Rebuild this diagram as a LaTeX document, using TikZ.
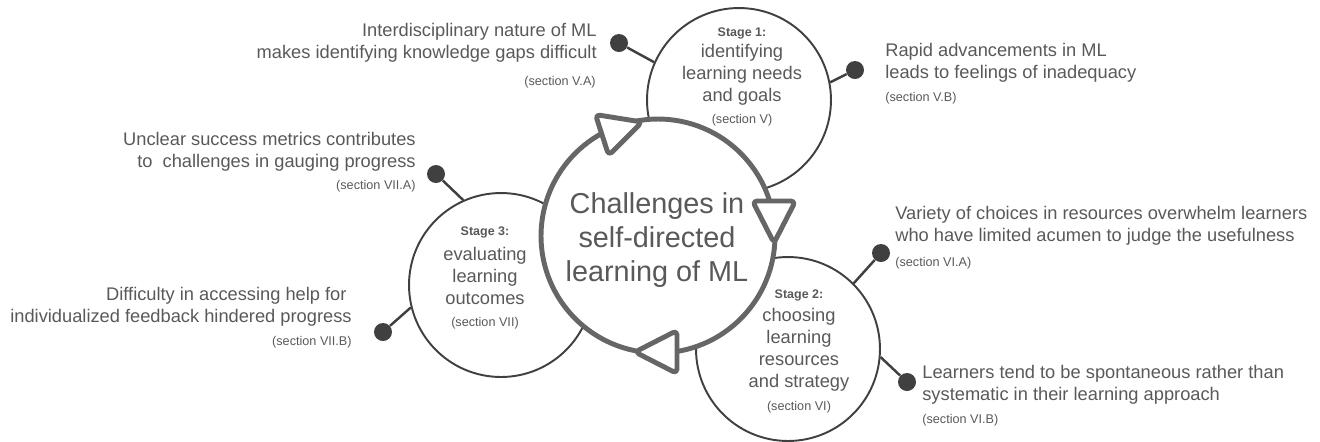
\documentclass[tikz,border=0pt]{standalone}
\usepackage{fontspec}
\setmainfont{Liberation Sans}
\usetikzlibrary{shapes.geometric}

\definecolor{ink}{HTML}{595959}
\definecolor{rim}{HTML}{404040}
\definecolor{hub}{HTML}{666666}

\begin{document}
\begin{tikzpicture}[x=0.02cm,y=-0.02cm]
      \useasboundingbox (0,0) rectangle (1320,441);

      % stage circles
      \begin{scope}[every node/.style={circle,draw=rim,line width=1.1pt,fill=white,minimum size=3.68cm,inner sep=0pt}]
        \node (s1) at (739,100) {};
        \node (s2) at (788,349) {};
        \node (s3) at (501,285) {};
      \end{scope}

      \node[circle,draw=hub,line width=2.8pt,fill=white,minimum size=4.68cm,inner sep=0pt] (core) at (658,236) {};

      % arrow heads on the cycle
      \begin{scope}[every node/.style={isosceles triangle,isosceles triangle stretches,draw=hub,line width=2.8pt,line join=round,rounded corners=2.5pt,fill=white,minimum width=0.86cm,minimum height=0.84cm,inner sep=0pt,outer sep=0pt,anchor=apex}]
        \node[rotate=18]  (t1) at (642,122) {};
        \node[rotate=-90] (t2) at (774,243) {};
        \node[rotate=180] (t3) at (635,352) {};
      \end{scope}

      % dots
      \begin{scope}[every node/.style={circle,fill=rim,minimum size=0.36cm,inner sep=0pt}]
        \node (d1) at (619,43)  {};
        \node (d2) at (855,70)  {};
        \node (d3) at (881,253) {};
        \node (d4) at (907,382) {};
        \node (d5) at (436,174) {};
        \node (d6) at (383,332) {};
      \end{scope}

      \begin{scope}[every edge/.style={draw=rim,line width=1.4pt}]
        \path (s1.156) edge (d1);
        \path (s1.11)  edge (d2);
        \path (s2.45)  edge (d3);
        \path (s2.-5)  edge (d4);
        \path (s3.114) edge (d5);
        \path (s3.194) edge (d6);
      \end{scope}

      % texts in the circles
      \node[text=ink,align=center,inner sep=0pt,font=\fontsize{16.4}{19.6}\selectfont] (coretxt) at (657,240) {Challenges in\\self-directed\\learning of ML};

      \begin{scope}[every node/.style={text=ink,inner sep=0pt,font=\bfseries\fontsize{7.1}{8.5}\selectfont}]
        \node (s1head) at (742,33)  {Stage 1:};
        \node (s2head) at (799,295) {Stage 2:};
        \node (s3head) at (485,232) {Stage 3:};
      \end{scope}

      \begin{scope}[every node/.style={text=ink,align=center,inner sep=0pt,font=\fontsize{10.4}{12.5}\selectfont}]
        \node (s1txt) at (742,75)  {identifying\\learning needs\\and goals};
        \node (s2txt) at (799,350) {choosing\\learning\\resources\\and strategy};
        \node (s3txt) at (485,276) {evaluating\\learning\\outcomes};
      \end{scope}

      \begin{scope}[every node/.style={text=ink,inner sep=0pt,font=\fontsize{7.2}{9}\selectfont}]
        \node (s1sec) at (742,120) {(section V)};
        \node (s2sec) at (799,407) {(section VI)};
        \node (s3sec) at (485,323) {(section VII)};
      \end{scope}

      % challenge notes
      \begin{scope}[every node/.style={text=ink,inner sep=0pt,font=\fontsize{10.4}{12.5}\selectfont}]
        \node[anchor=east,align=right] (na) at (597,43)  {Interdisciplinary nature of ML\\makes identifying knowledge gaps difficult};
        \node[anchor=west,align=left]  (nb) at (885,63)  {Rapid advancements in ML\\leads to feelings of inadequacy};
        \node[anchor=east,align=right] (nc) at (416,152) {Unclear success metrics contributes\\to\ \ challenges in gauging progress};
        \node[anchor=east,align=right] (nd) at (352,307) {Difficulty in accessing help for\kern0.28em\\individualized feedback hindered progress};
        \node[anchor=west,align=left]  (ne) at (895,226) {Variety of choices in resources overwhelm learners\\who have limited acumen to judge the usefulness};
        \node[anchor=west,align=left]  (nf) at (922,385) {Learners tend to be spontaneous rather than\\systematic in their learning approach};
      \end{scope}

      \begin{scope}[every node/.style={text=ink,inner sep=0pt,font=\fontsize{7.2}{9}\selectfont}]
        \node[anchor=east] (nasec) at (596,82)  {(section V.A)};
        \node[anchor=west] (nbsec) at (885,98)  {(section V.B)};
        \node[anchor=east] (ncsec) at (416,186) {(section VII.A)};
        \node[anchor=east] (ndsec) at (352,342) {(section VII.B)};
        \node[anchor=west] (nesec) at (895,263) {(section VI.A)};
        \node[anchor=west] (nfsec) at (922,420) {(section VI.B)};
      \end{scope}

    \end{tikzpicture}
\end{document}
